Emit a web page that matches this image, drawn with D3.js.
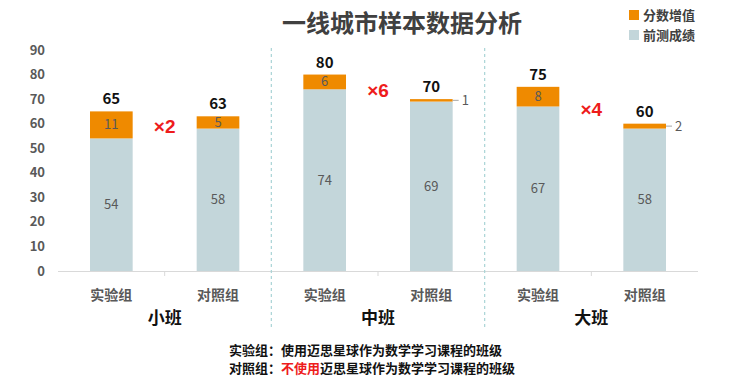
<!DOCTYPE html>
<html>
<head>
<meta charset="utf-8">
<script src="https://cdn.jsdelivr.net/npm/d3@7"></script>
<style>
  body { margin: 0; background: #fff; }
  text { font-family: "Noto Sans CJK SC", "Noto Sans", sans-serif; }
</style>
</head>
<body>
<div id="viz_div"></div>
<script>
// DATA
const groups = ["小班", "中班", "大班"];
const subCats = ["实验组", "对照组"];
const baseScores = [54, 58, 74, 69, 67, 58];
const gains = [11, 5, 6, 1, 8, 2];
const multipliers = ["×2", "×6", "×4"];
const multiplierLevel = [56, 71, 63];   // where the "×n" note sits, in score units
const yTicks = [0, 10, 20, 30, 40, 50, 60, 70, 80, 90];
const legendKeys = ["分数增值", "前测成绩"];

const W = 730, H = 386;
const margin = { top: 50, left: 58, right: 32, bottom: 115 };
const colOrange = "#ef8a00", colBase = "#c3d6da";

const svg = d3.select("#viz_div").append("svg")
    .attr("width", W).attr("height", H);

const slots = d3.range(baseScores.length);
const x = d3.scaleBand().domain(slots).range([margin.left, W - margin.right]).paddingInner(0.6).paddingOuter(0.3);
const slotW = (W - margin.right - margin.left) / slots.length;
const y = d3.scaleLinear().domain([0, 90]).range([271, 50]);

// TITLE
svg.append("text")
    .attr("x", 402).attr("y", 32)
    .attr("text-anchor", "middle")
    .attr("font-size", 24).attr("font-weight", "bold")
    .attr("fill", "#404040")
    .text("一线城市样本数据分析");

// LEGEND
legendKeys.forEach(function (k, i) {
    svg.append("rect").attr("x", 629).attr("y", 10 + i * 20).attr("width", 10).attr("height", 10)
        .attr("fill", i == 0 ? colOrange : colBase);
    svg.append("text").attr("x", 643).attr("y", 20 + i * 20)
        .attr("font-size", 13).attr("font-weight", "bold").attr("fill", "#404040").text(k);
});

// Y AXIS LABELS
svg.selectAll(".ytick").data(yTicks).enter().append("text")
    .attr("x", 45).attr("y", function (d) { return y(d); })
    .attr("dy", "0.35em").attr("text-anchor", "end")
    .attr("font-size", 13).attr("font-weight", "bold").attr("fill", "#595959")
    .text(function (d) { return d; });

// X AXIS LINE + TICKS
svg.append("line").attr("x1", margin.left).attr("x2", W - margin.right)
    .attr("y1", y(0) + 0.5).attr("y2", y(0) + 0.5).attr("stroke", "#d9d9d9");
d3.range(slots.length + 1).forEach(function (i) {
    if (i % 2 == 1) {
        svg.append("line").attr("x1", margin.left + i * slotW).attr("x2", margin.left + i * slotW)
            .attr("y1", y(0)).attr("y2", y(0) + 5).attr("stroke", "#d9d9d9");
    }
});

// GROUP DIVIDERS
[2, 4].forEach(function (i) {
    svg.append("line").attr("x1", margin.left + i * slotW).attr("x2", margin.left + i * slotW)
        .attr("y1", 48).attr("y2", 328)
        .attr("stroke", "#a9d4d6").attr("stroke-width", 1.2).attr("stroke-dasharray", "3,3");
});

// BARS
svg.selectAll(".base").data(slots).enter().append("rect")
    .attr("x", function (d) { return x(d); }).attr("width", x.bandwidth())
    .attr("y", function (d) { return y(baseScores[d]); })
    .attr("height", function (d) { return y(0) - y(baseScores[d]); })
    .attr("fill", colBase);

svg.selectAll(".gain").data(slots).enter().append("rect")
    .attr("x", function (d) { return x(d); }).attr("width", x.bandwidth())
    .attr("y", function (d) { return y(baseScores[d] + gains[d]); })
    .attr("height", function (d) { return y(baseScores[d]) - y(baseScores[d] + gains[d]); })
    .attr("fill", colOrange);

// LABELS INSIDE BARS
svg.selectAll(".baseLbl").data(slots).enter().append("text")
    .attr("x", function (d) { return x(d) + x.bandwidth() / 2; })
    .attr("y", function (d) { return y(baseScores[d] / 2); })
    .attr("dy", "0.35em").attr("text-anchor", "middle")
    .attr("font-size", 13).attr("fill", "#595959")
    .text(function (d) { return baseScores[d]; });

slots.forEach(function (d) {
    const mid = y(baseScores[d] + gains[d] / 2);
    if (gains[d] >= 4) {
        svg.append("text").attr("x", x(d) + x.bandwidth() / 2).attr("y", mid)
            .attr("dy", "0.35em").attr("text-anchor", "middle")
            .attr("font-size", 13).attr("fill", "#595959").text(gains[d]);
    } else {
        const xr = x(d) + x.bandwidth();
        svg.append("line").attr("x1", xr).attr("x2", xr + 6).attr("y1", mid).attr("y2", mid)
            .attr("stroke", "#a6a6a6");
        svg.append("text").attr("x", xr + 9).attr("y", mid)
            .attr("dy", "0.35em").attr("font-size", 13).attr("fill", "#595959").text(gains[d]);
    }
    // total
    svg.append("text").attr("x", x(d) + x.bandwidth() / 2).attr("y", y(baseScores[d] + gains[d]) - 7)
        .attr("text-anchor", "middle").attr("font-size", 15).attr("font-weight", "bold")
        .attr("fill", "#111").text(baseScores[d] + gains[d]);
    // category
    svg.append("text").attr("x", x(d) + x.bandwidth() / 2).attr("y", 300)
        .attr("text-anchor", "middle").attr("font-size", 14).attr("font-weight", "bold")
        .attr("fill", "#595959").text(subCats[d % 2]);
});

// GROUP LABELS + MULTIPLIERS
groups.forEach(function (g, i) {
    svg.append("text").attr("x", margin.left + (i * 2 + 1) * slotW).attr("y", 324)
        .attr("text-anchor", "middle").attr("font-size", 17).attr("font-weight", "bold")
        .attr("fill", "#111").text(g);
    svg.append("text").attr("x", margin.left + (i * 2 + 1) * slotW).attr("y", y(multiplierLevel[i]))
        .attr("text-anchor", "middle").attr("font-size", 19).attr("font-weight", "bold")
        .style("font-family", "'Liberation Sans', Arial, sans-serif")
        .attr("fill", "#ee1c1c").text(multipliers[i]);
});

// NOTES
const n1 = svg.append("text").attr("x", 229).attr("y", 355).attr("font-size", 13).attr("font-weight", "bold").attr("fill", "#111");
n1.append("tspan").text("实验组：使用迈思星球作为数学学习课程的班级");
const n2 = svg.append("text").attr("x", 229).attr("y", 373).attr("font-size", 13).attr("font-weight", "bold").attr("fill", "#111");
n2.append("tspan").text("对照组：");
n2.append("tspan").attr("fill", "#ee1c1c").text("不使用");
n2.append("tspan").text("迈思星球作为数学学习课程的班级");
</script>
</body>
</html>
